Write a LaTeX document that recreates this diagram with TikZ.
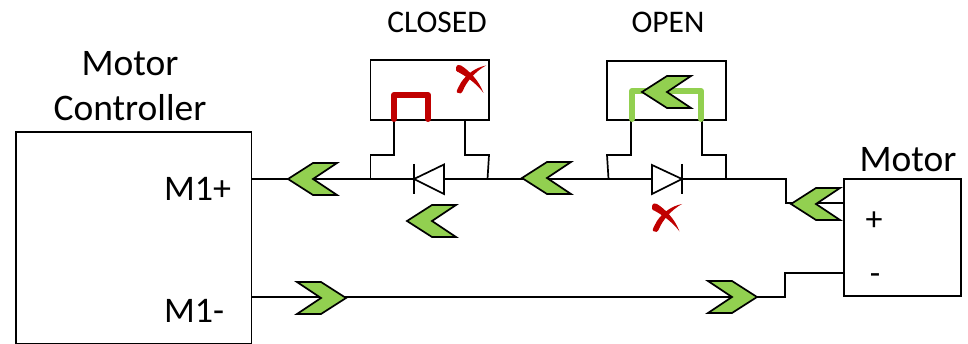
\documentclass[tikz,border=0pt]{standalone}
\usepackage{fontspec}
\setmainfont{Carlito}
\definecolor{chevgreen}{HTML}{92D050}
\definecolor{xred}{HTML}{C00000}
\tikzset{
  x=1pt,y=-1pt,
  wire/.style={draw=black,line width=1.7pt,line join=miter},
  boxn/.style={draw=black,line width=1.9pt,rectangle,inner sep=0pt,fill=none},
  chev/.style={draw=black,line width=1.7pt,fill=chevgreen,line join=miter},
  txtbig/.style={inner sep=0pt,font=\fontsize{37.5}{37.5}\selectfont},
  txtmid/.style={inner sep=0pt,font=\fontsize{36}{36}\selectfont},
  txtsmall/.style={inner sep=0pt,font=\fontsize{31.5}{31.5}\selectfont},
  pics/chevleft/.style={code={\path[chev] (0,0)--(25,-16)--(49,-16)--(25,0)--(49,16)--(25,16)--cycle;}},
  pics/chevright/.style={code={\path[chev] (0,0)--(-25,-16)--(-49,-16)--(-25,0)--(-49,16)--(-25,16)--cycle;}},
  pics/redx/.style={code={
    \fill[xred] (0,2) .. controls (1,-1) and (3,-1) .. (5,0) .. controls (13,5) and (23,15) .. (27.5,27.5) .. controls (23,21) and (14,13) .. (3,7) .. controls (0,6) and (-1,4) .. (0,2) -- cycle;
    \fill[xred] (30,0) .. controls (20,2) and (11,8) .. (5,17) .. controls (3,21) and (0,25) .. (1,27) .. controls (3,29) and (6,28) .. (7,25) .. controls (10,17) and (19,6) .. (30,0) -- cycle;
  }}
}
\begin{document}
\begin{tikzpicture}
\useasboundingbox (0,0) rectangle (968,344);
% boxes
\node[boxn,minimum width=235.5pt,minimum height=212pt] (ctrl) at (133.75,238) {};
\node[boxn,minimum width=117pt,minimum height=117pt] (motor) at (902.3,237.5) {};
\node[boxn,minimum width=118.5pt,minimum height=60pt] (swa) at (429.75,90) {};
\node[boxn,minimum width=119pt,minimum height=59pt] (swb) at (666.5,90.5) {};
% coordinates
\coordinate (j1) at (370.5,179);
\coordinate (j2) at (487.5,179);
\coordinate (j3) at (608.5,179);
\coordinate (j4) at (726,179);
\coordinate (d1) at (414,179);
\coordinate (d2) at (444,179);
\coordinate (d3) at (652,179);
\coordinate (d4) at (682,179);
\coordinate (ma) at (786,179);
\coordinate (mb) at (786,203);
\coordinate (mc) at (785,297);
\coordinate (md) at (785,273);
% wires
\draw[wire] (ctrl.east |- j1) -- (j1) -- (d1);
\draw[wire] (d2) -- (j2) -- (j3) -- (d3);
\draw[wire] (d4) -- (j4) -- (ma) -- (mb) -- (motor.west |- mb);
\draw[wire] (ctrl.east |- mc) -- (mc) -- (md) -- (motor.west |- md);
% switch legs
\draw[wire] (394,120) -- (394,155) -- (370.5,155) -- (j1);
\draw[wire] (465,120) -- (465,155) -- (489,155) -- (j2);
\draw[wire] (631,120) -- (631,155) -- (607,155) -- (j3);
\draw[wire] (702,120) -- (702,155) -- (726,155) -- (j4);
% diodes
\draw[wire,fill=white] (d1) -- (d2 |- 0,164.5) -- (d2 |- 0,194) -- cycle;
\draw[wire] (d1 |- 0,164) -- (d1 |- 0,194);
\draw[wire,fill=white] (d4) -- (d3 |- 0,165) -- (d3 |- 0,194) -- cycle;
\draw[wire] (d4 |- 0,164) -- (d4 |- 0,194);
% contacts
\draw[xred,line width=6pt,line cap=round,line join=round] (394,119) -- (394,95) -- (428,95) -- (428,119);
\draw[chevgreen,line width=6pt,line cap=round,line join=round] (632,119) -- (632,91) -- (701,91) -- (701,119);
% chevrons
\pic at (288,179) {chevleft};
\pic at (407,221) {chevleft};
\pic at (522,178) {chevleft};
\pic at (642,92) {chevleft};
\pic at (791,204) {chevleft};
\pic at (346,298) {chevright};
\pic at (757,297) {chevright};
% red crosses
\pic at (456,65.5) {redx};
\pic at (652,204) {redx};
% text
\node[txtsmall] (tclosed) at (437,22) {CLOSED};
\node[txtsmall] (topen) at (668,22) {OPEN};
\node[txtbig] (tmc1) at (130,64) {Motor};
\node[txtbig] (tmc2) at (130,108) {Controller};
\node[txtbig] (tm) at (908,160) {Motor};
\node[txtmid,anchor=west] (tp) at (164,189) {M1+};
\node[txtmid,anchor=west] (tn) at (164,311) {M1-};
\node[inner sep=0pt,font=\fontsize{34}{34}\selectfont] (plus) at (874,221) {+};
\node[inner sep=0pt,font=\fontsize{34}{34}\selectfont] (minus) at (875,279) {-};
\end{tikzpicture}
\end{document}
